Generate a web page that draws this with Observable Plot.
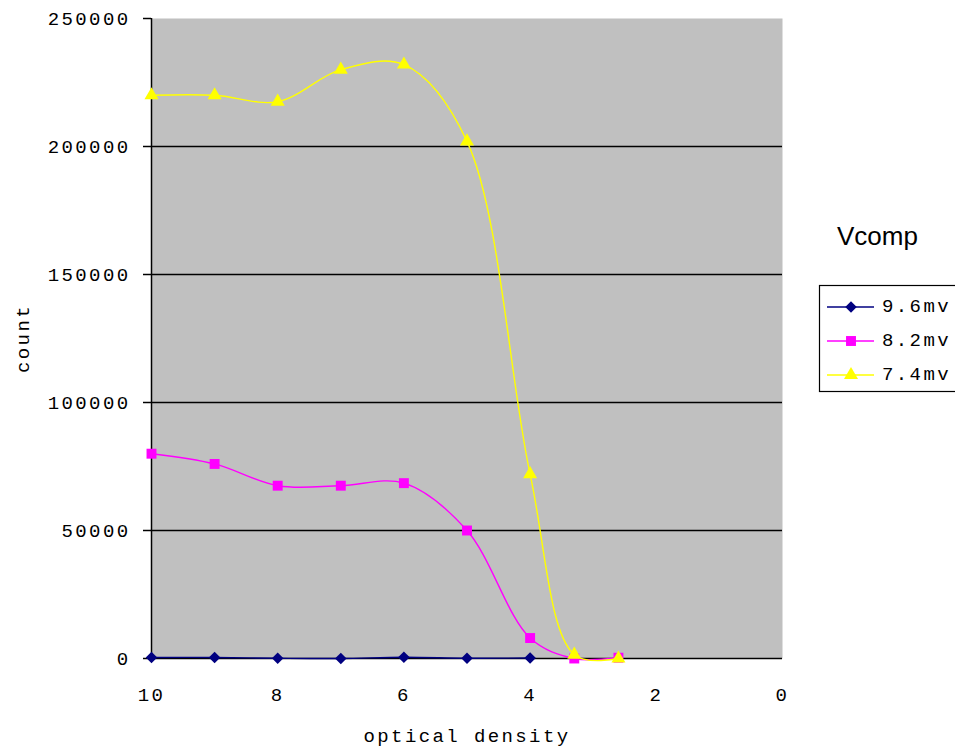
<!DOCTYPE html>
<html>
<head>
<meta charset="utf-8">
<script src="https://cdn.jsdelivr.net/npm/d3@7"></script>
<script src="https://cdn.jsdelivr.net/npm/@observablehq/plot@0.6"></script>
<style>
  body { margin: 0; background: #fff; }
  #chart svg text { letter-spacing: 2.4px; }
  #chart svg text.sans { letter-spacing: 0; }
</style>
</head>
<body>
<div id="chart"></div>
<script>
// Optical density steps (x) and photon counts for each comparator voltage
const densityLong = [10, 9, 8, 7, 6, 5, 4, 3.3, 2.6];
const densityShort = [10, 9, 8, 7, 6, 5, 4];

const count96 = [400, 400, 100, 0, 500, 100, 200];
const count82 = [80000, 76000, 67500, 67500, 68500, 50000, 8000, 0, 300];
const count74 = [220000, 220000, 217500, 230000, 232000, 202000, 72000, 1500, 0];

const seriesNames = ["9.6mv", "8.2mv", "7.4mv"];
const seriesColors = ["#000080", "#ff00ff", "#ffff00"];
const seriesSymbols = ["diamond2", "square", "triangle"];
const seriesRadius = [5.2, 5.6, 5.2];

const xTicks = [10, 8, 6, 4, 2, 0];
const yTicks = [0, 50000, 100000, 150000, 200000, 250000];

const legendTitle = "Vcomp";
const xLabel = "optical density";
const yLabel = "count";

const series = [
  {x: densityShort, y: count96},
  {x: densityLong, y: count82},
  {x: densityLong, y: count74}
].map((s, i) => ({
  name: seriesNames[i],
  color: seriesColors[i],
  symbol: seriesSymbols[i],
  r: seriesRadius[i],
  rows: s.x.map((x, j) => ({x, y: s.y[j]}))
}));

const seriesMarks = series.flatMap(s => [
  Plot.line(s.rows, {x: "x", y: "y", stroke: s.color, strokeWidth: 1.4, curve: "catmull-rom"}),
  Plot.dot(s.rows, {x: "x", y: "y", symbol: s.symbol, r: s.r, fill: s.color, stroke: "none"})
]);

const chart = Plot.plot({
  width: 955,
  height: 749,
  marginLeft: 151,
  marginRight: 173,
  marginTop: 18,
  marginBottom: 91,
  style: {fontFamily: "'Liberation Mono', monospace", fontSize: "19px", color: "#000", background: "#fff", overflow: "visible"},
  x: {domain: [10, 0]},
  y: {domain: [0, 250000]},
  marks: [
    Plot.frame({fill: "#c0c0c0", stroke: null}),
    Plot.gridY(yTicks.slice(1, -1), {stroke: "#000", strokeOpacity: 1, strokeWidth: 1.5}),
    Plot.axisY(yTicks, {tickSize: 8, tickPadding: 13, tickFormat: d3.format("d"), label: null, strokeWidth: 1.5}),
    Plot.axisX(xTicks, {tickSize: 0, tickPadding: 29, label: null}),
    Plot.ruleX([10], {stroke: "#000", strokeWidth: 1.5}),
    Plot.ruleY([0], {stroke: "#000", strokeWidth: 1.5}),
    ...seriesMarks,
    Plot.text([xLabel], {frameAnchor: "bottom", dy: 77, textAnchor: "middle", lineAnchor: "middle", fontSize: 19}),
    Plot.text([yLabel], {frameAnchor: "left", dx: -129, rotate: -90, textAnchor: "middle", lineAnchor: "middle", fontSize: 19})
  ]
});

document.getElementById("chart").append(chart);

// Legend on the right: title, boxed entries with line + marker
const svg = d3.select(chart);
const lg = svg.append("g").attr("text-anchor", "start");
lg.append("text")
  .attr("class", "sans")
  .attr("x", 837).attr("y", 236)
  .attr("dominant-baseline", "central")
  .attr("font-family", "'Liberation Sans', Arial, sans-serif")
  .attr("font-size", 26)
  .text(legendTitle);
lg.append("rect")
  .attr("x", 819.5).attr("y", 285.5)
  .attr("width", 140).attr("height", 106)
  .attr("fill", "#fff").attr("stroke", "#000").attr("stroke-width", 1.2);
const symbolTypes = {diamond2: d3.symbolDiamond2, square: d3.symbolSquare, triangle: d3.symbolTriangle};
series.forEach((s, i) => {
  const y = 307 + i * 34;
  lg.append("line")
    .attr("x1", 827).attr("x2", 874).attr("y1", y).attr("y2", y)
    .attr("stroke", s.color).attr("stroke-width", 1.4);
  lg.append("path")
    .attr("transform", `translate(851,${y})`)
    .attr("d", d3.symbol(symbolTypes[s.symbol], s.r * s.r * Math.PI)())
    .attr("fill", s.color);
  lg.append("text")
    .attr("x", 882).attr("y", y)
    .attr("dominant-baseline", "central")
    .attr("font-size", 19)
    .text(s.name);
});
</script>
</body>
</html>
